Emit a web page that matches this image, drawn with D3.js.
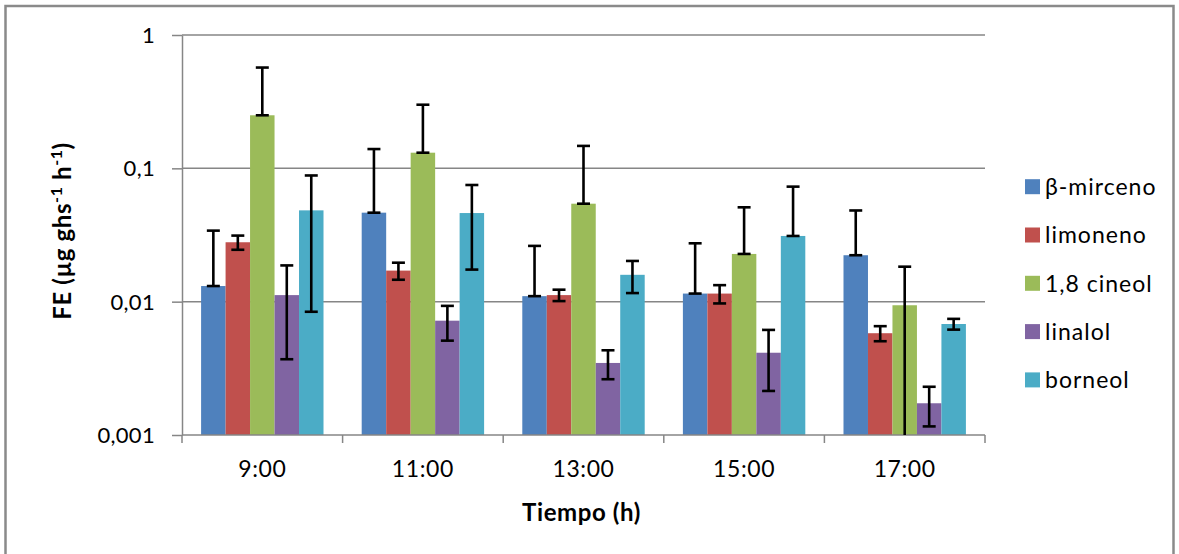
<!DOCTYPE html>
<html>
<head>
<meta charset="utf-8">
<script src="https://cdnjs.cloudflare.com/ajax/libs/d3/7.8.5/d3.min.js"></script>
<style>
  html, body { margin: 0; padding: 0; background: #fff; }
  svg { display: block; }
  text { font-family: Lato, "Open Sans", "DejaVu Sans", sans-serif; fill: #000; }
</style>
</head>
<body>
<svg id="chart" width="1179" height="554"></svg>
<script>
// Sampling times (x categories)
const categories = ["9:00", "11:00", "13:00", "15:00", "17:00"];

// Compounds (series)
const seriesNames = ["β-mirceno", "limoneno", "1,8 cineol", "linalol", "borneol"];
const seriesColors = ["#4F81BD", "#C0504D", "#9BBB59", "#8064A2", "#4BACC6"];

// Emission factor means (µg ghs-1 h-1), one array per compound
const mirceno  = [0.0131, 0.0465, 0.0110, 0.0115, 0.0223];
const limoneno = [0.0279, 0.0171, 0.0112, 0.0115, 0.0058];
const cineol   = [0.250,  0.131,  0.0543, 0.0228, 0.0094];
const linalol  = [0.0112, 0.0072, 0.00347, 0.00414, 0.00173];
const borneol  = [0.0484, 0.0462, 0.0159, 0.0311, 0.0068];

// Standard deviations
const mircenoSd  = [0.021,  0.093,  0.0152, 0.0159, 0.026];
const limonenoSd = [0.0034, 0.0025, 0.0011, 0.0018, 0.00075];
const cineolSd   = [0.32,   0.169,  0.093,  0.0282, 0.0089];
const linalolSd  = [0.0075, 0.0021, 0.00085, 0.002, 0.00057];
const borneolSd  = [0.040,  0.0288, 0.0043, 0.0418, 0.00063];

// Log axis ticks
const yTicks = [1, 0.1, 0.01, 0.001];
const yTickLabels = ["1", "0,1", "0,01", "0,001"];

const seriesValues = [mirceno, limoneno, cineol, linalol, borneol];
const seriesSd = [mircenoSd, limonenoSd, cineolSd, linalolSd, borneolSd];

const svg = d3.select("#chart");

// Chart frame
svg.append("rect")
  .attr("x", 5.5).attr("y", 6).attr("width", 1168).attr("height", 570)
  .attr("fill", "none").attr("stroke", "#8a8a8a").attr("stroke-width", 2.5);

const plot = { left: 182, right: 985, top: 35, bottom: 435 };

const y = d3.scaleLog().domain([0.001, 1]).range([plot.bottom, plot.top]);
const x0 = d3.scaleBand().domain(categories).range([plot.left, plot.right]).padding(0);
const x1 = d3.scaleBand().domain(seriesNames).range([0, x0.bandwidth()])
  .paddingInner(0).paddingOuter(0.78);

const gridColor = "#868686";

// Horizontal gridlines
svg.append("g")
  .selectAll("line")
  .data(yTicks.filter(d => d > 0.001))
  .join("line")
  .attr("x1", plot.left).attr("x2", plot.right)
  .attr("y1", d => y(d)).attr("y2", d => y(d))
  .attr("stroke", gridColor).attr("stroke-width", 1.5);

// Y axis
const yAxis = d3.axisLeft(y)
  .tickValues(yTicks)
  .tickFormat((d, i) => yTickLabels[i])
  .tickSizeInner(10).tickSizeOuter(0).tickPadding(17);
const gy = svg.append("g").attr("transform", `translate(${plot.left},0)`).call(yAxis);
gy.select(".domain").attr("stroke", gridColor).attr("stroke-width", 1.5);
gy.selectAll(".tick line").attr("stroke", gridColor).attr("stroke-width", 1.5);
gy.selectAll(".tick text").style("font-size", "22px").style("letter-spacing", "0.3px").attr("dy", "0.34em");

// Bars
const groups = svg.append("g")
  .selectAll("g")
  .data(seriesNames)
  .join("g")
  .attr("fill", (d, i) => seriesColors[i]);

groups.selectAll("rect")
  .data((name, si) => categories.map((c, ci) => ({ name, si, c, v: seriesValues[si][ci], sd: seriesSd[si][ci] })))
  .join("rect")
  .attr("x", d => x0(d.c) + x1(d.name))
  .attr("width", x1.bandwidth())
  .attr("y", d => y(d.v))
  .attr("height", d => y(0.001) - y(d.v));

// X axis
const xAxisLine = svg.append("g");
xAxisLine.append("line")
  .attr("x1", plot.left).attr("x2", plot.right)
  .attr("y1", plot.bottom).attr("y2", plot.bottom)
  .attr("stroke", gridColor).attr("stroke-width", 1.5);
const boundaries = categories.map(c => x0(c)).concat([plot.right]);
xAxisLine.selectAll("line.tk")
  .data(boundaries)
  .join("line").attr("class", "tk")
  .attr("x1", d => d).attr("x2", d => d)
  .attr("y1", plot.bottom).attr("y2", plot.bottom + 8)
  .attr("stroke", gridColor).attr("stroke-width", 1.5);
xAxisLine.selectAll("text")
  .data(categories)
  .join("text")
  .attr("x", d => x0(d) + x0.bandwidth() / 2)
  .attr("y", 477)
  .attr("text-anchor", "middle")
  .style("font-size", "23px").style("letter-spacing", "0.6px")
  .text(d => d);

// Error bars
const errData = [];
seriesNames.forEach((name, si) => {
  categories.forEach((c, ci) => {
    const v = seriesValues[si][ci], sd = seriesSd[si][ci];
    const hi = v + sd;
    let lo = v - sd > 0 ? v - sd : v;
    const clipped = lo < y.domain()[0];
    if (clipped) lo = y.domain()[0];
    errData.push({ cx: x0(c) + x1(name) + x1.bandwidth() / 2, hi, lo, clipped });
  });
});
const capHalf = 6.5;
const eb = svg.append("g").attr("stroke", "#000").attr("stroke-width", 2.6);
eb.selectAll("line.stem").data(errData).join("line").attr("class", "stem")
  .attr("x1", d => d.cx).attr("x2", d => d.cx)
  .attr("y1", d => y(d.hi)).attr("y2", d => y(d.lo));
eb.selectAll("line.capHi").data(errData).join("line").attr("class", "capHi")
  .attr("x1", d => d.cx - capHalf).attr("x2", d => d.cx + capHalf)
  .attr("y1", d => y(d.hi)).attr("y2", d => y(d.hi));
eb.selectAll("line.capLo").data(errData.filter(d => !d.clipped)).join("line").attr("class", "capLo")
  .attr("x1", d => d.cx - capHalf).attr("x2", d => d.cx + capHalf)
  .attr("y1", d => y(d.lo)).attr("y2", d => y(d.lo));

// Axis titles
svg.append("text")
  .attr("x", (plot.left + plot.right) / 2 - 2)
  .attr("y", 521)
  .attr("text-anchor", "middle")
  .style("font-size", "24px").style("font-weight", "bold").style("letter-spacing", "0.6px")
  .text("Tiempo (h)");

const yt = svg.append("text")
  .attr("transform", `translate(71,${(plot.top + plot.bottom) / 2 - 4}) rotate(-90)`)
  .attr("text-anchor", "middle")
  .style("font-size", "24px").style("font-weight", "bold").style("letter-spacing", "0.6px");
yt.append("tspan").text("FE (µg ghs");
yt.append("tspan").attr("dy", -9).style("font-size", "16px").text("-1");
yt.append("tspan").attr("dy", 9).text(" h");
yt.append("tspan").attr("dy", -9).style("font-size", "16px").text("-1");
yt.append("tspan").attr("dy", 9).text(")");

// Legend
const legend = svg.append("g");
const lg = legend.selectAll("g").data(seriesNames).join("g")
  .attr("transform", (d, i) => `translate(1025,${186.7 + i * 48.3})`);
lg.append("rect")
  .attr("x", 0).attr("y", -7.5).attr("width", 15).attr("height", 15)
  .attr("fill", (d, i) => seriesColors[i]);
lg.append("text")
  .attr("x", 20).attr("y", 0).attr("dy", "0.36em")
  .style("font-size", "23px").style("letter-spacing", "1px")
  .text(d => d);
</script>
</body>
</html>
